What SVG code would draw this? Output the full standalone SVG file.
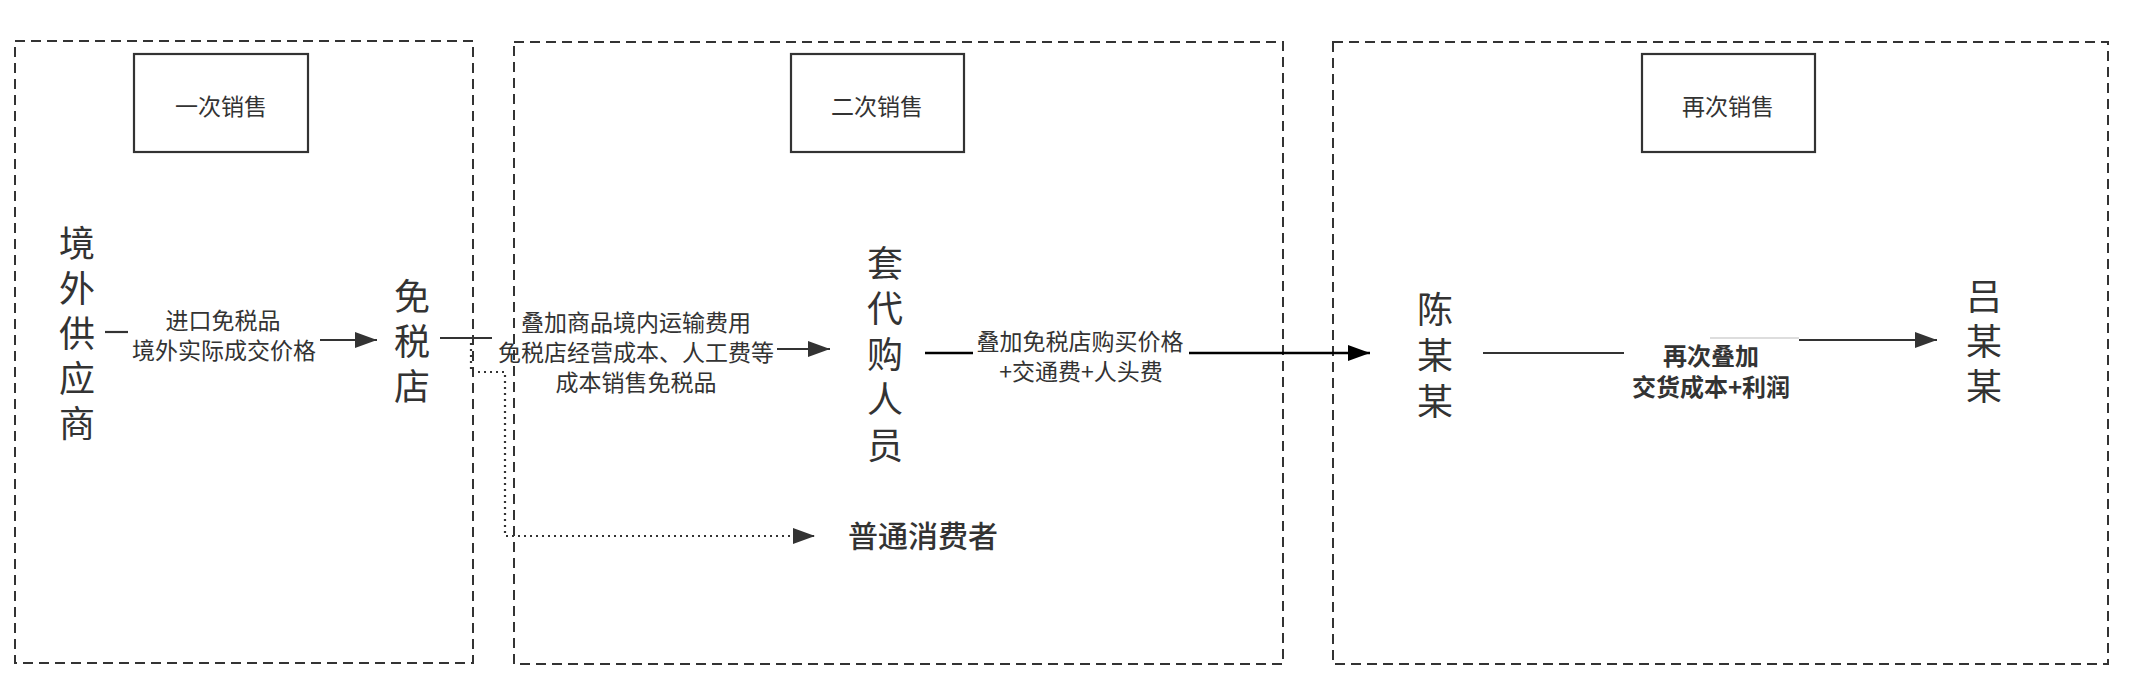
<svg xmlns="http://www.w3.org/2000/svg" width="2146" height="684" viewBox="0 0 2146 684">
<style>
.frame{fill:none;stroke:#333;stroke-width:2;stroke-dasharray:10 6}
.title{fill:#fff;stroke:#333;stroke-width:2.2}
text{font-family:"Noto Sans CJK SC","Noto Sans",sans-serif;fill:#333}
.tt{font-size:23px;text-anchor:middle}
.node{font-size:36px;writing-mode:vertical-rl;text-anchor:start;letter-spacing:9px}
.lbl{font-size:23px;text-anchor:middle}
.lblb{font-size:24px;text-anchor:middle;font-weight:bold}
.ln{fill:none;stroke:#333;stroke-width:2.2}
.dot{fill:none;stroke:#333;stroke-width:2.2;stroke-dasharray:2 4}
</style>
<defs>
<marker id="ahb" markerWidth="22" markerHeight="16" refX="22" refY="8" orient="auto" markerUnits="userSpaceOnUse">
<path d="M0,0 L22,8 L0,16 z" fill="#333"/>
</marker>
<marker id="ahk" markerWidth="22" markerHeight="16" refX="22" refY="8" orient="auto" markerUnits="userSpaceOnUse">
<path d="M0,0 L22,8 L0,16 z" fill="#000"/>
</marker>
</defs>
<rect width="2146" height="684" fill="#fff"/>

<g id="stage1">
<rect class="frame" x="15" y="41" width="458" height="622"/>
<rect class="title" x="134" y="54" width="174" height="98"/>
<text class="tt" x="221" y="115">一次销售</text>
</g>
<g id="stage2">
<rect class="frame" x="514" y="42" width="769" height="622"/>
<rect class="title" x="791" y="54" width="173" height="98"/>
<text class="tt" x="877" y="115">二次销售</text>
</g>
<g id="stage3">
<rect class="frame" x="1333" y="42" width="775" height="622"/>
<rect class="title" x="1642" y="54" width="173" height="98"/>
<text class="tt" x="1728" y="115">再次销售</text>
</g>

<g id="connectors">
<path class="ln" d="M105,332 L128,332"/>
<path class="ln" d="M320,340 L377,340" marker-end="url(#ahb)"/>
<path class="ln" d="M440,338 L492,338"/>
<path class="dot" d="M440,338 L471,338 L471,372 L505,372 L505,536 L815,536" marker-end="url(#ahb)"/>
<path class="ln" d="M777,349 L830,349" marker-end="url(#ahb)"/>
<path fill="none" stroke="#000" stroke-width="2.4" d="M925,353 L973,353"/>
<path fill="none" stroke="#000" stroke-width="2.4" d="M1189,353 L1370,353" marker-end="url(#ahk)"/>
<path class="ln" d="M1483,353 L1624,353"/>
<path fill="none" stroke="#bbb" stroke-width="1" d="M1710,338 L1799,338"/>
<path class="ln" d="M1799,340 L1937,340" marker-end="url(#ahb)"/>
<text class="lbl" x="223" y="329">进口免税品</text>
<text class="lbl" x="224" y="359">境外实际成交价格</text>
<text class="lbl" x="636" y="331">叠加商品境内运输费用</text>
<text class="lbl" x="636" y="361">免税店经营成本、人工费等</text>
<text class="lbl" x="636" y="391">成本销售免税品</text>
<text class="lbl" x="1080" y="350">叠加免税店购买价格</text>
<text class="lbl" x="1081" y="380">+交通费+人头费</text>
<text class="lblb" x="1711" y="365">再次叠加</text>
<text class="lblb" x="1711" y="396">交货成本+利润</text>
</g>

<g id="supplier">
<text class="node" x="77" y="225">境外供应商</text>
</g>
<g id="dutyfree">
<text class="node" x="412" y="278">免税店</text>
</g>
<g id="buyer">
<text class="node" x="885" y="245" style="letter-spacing:9.5px">套代购人员</text>
</g>
<g id="consumer">
<text x="923" y="547" style="font-size:30px;text-anchor:middle;font-weight:500">普通消费者</text>
</g>
<g id="chen">
<text class="node" x="1435" y="291" style="letter-spacing:10px">陈某某</text>
</g>
<g id="lv">
<text class="node" x="1984" y="278">吕某某</text>
</g>
</svg>
